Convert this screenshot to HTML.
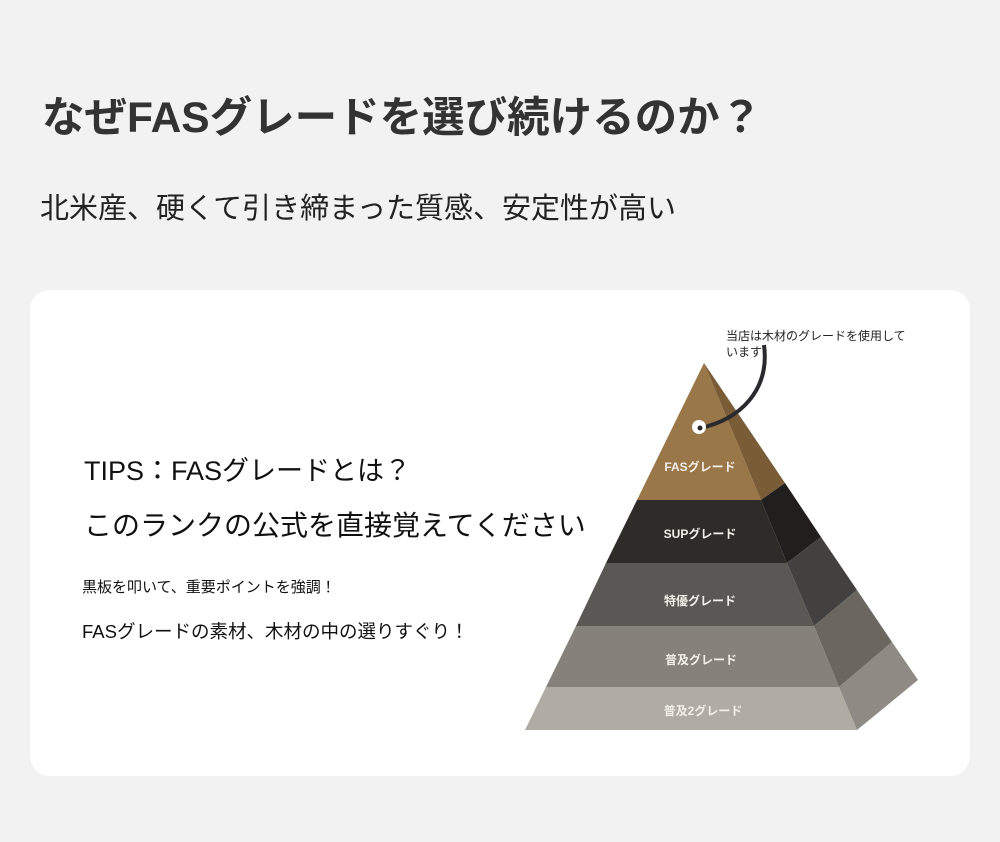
<!DOCTYPE html>
<html><head><meta charset="utf-8"><style>
body{margin:0;width:1000px;height:842px;background:#f2f2f2;position:relative;overflow:hidden;font-family:"Liberation Sans","Noto Sans CJK JP",sans-serif;color:#222}
.t{position:absolute;white-space:nowrap}
.card{position:absolute;left:30px;top:290px;width:940px;height:486px;background:#fff;border-radius:20px}
</style></head><body>
<div class="t" style="left:42px;top:84px;font-size:42.5px;font-weight:bold;color:#333">なぜFASグレードを選び続けるのか？</div>
<div class="t" style="left:40px;top:185px;font-size:29px;color:#222">北米産、硬くて引き締まった質感、安定性が高い</div>
<div class="card"></div>
<div class="t" style="left:84px;top:449px;font-size:27px;color:#111">TIPS：FASグレードとは？</div>
<div class="t" style="left:84px;top:504px;font-size:28px;color:#111">このランクの公式を直接覚えてください</div>
<div class="t" style="left:82px;top:576px;font-size:15px;color:#111">黒板を叩いて、重要ポイントを強調！</div>
<div class="t" style="left:82px;top:618px;font-size:18.5px;color:#111">FASグレードの素材、木材の中の選りすぐり！</div>
<svg style="position:absolute;left:0;top:0" width="1000" height="842">
<g>
<polygon points="704,363 761,500 637,500" fill="#9a7748"/>
<polygon points="704,363 785,483 761,500" fill="#7a5c37"/>
<polygon points="637,500 761,500 787,563 606,563" fill="#2e2c29"/>
<polygon points="761,500 785,483 821,537 787,563" fill="#201f1d"/>
<polygon points="606,563 787,563 814,626 576,626" fill="#5a5855"/>
<polygon points="787,563 821,537 857,590 814,626" fill="#434140"/>
<polygon points="576,626 814,626 839,687 546,687" fill="#86817a"/>
<polygon points="814,626 857,590 892,642 839,687" fill="#6b6760"/>
<polygon points="546,687 839,687 857,730 525,730" fill="#b0aca3"/>
<polygon points="839,687 892,642 918,680 857,730" fill="#8f8a83"/>
</g>
<path d="M700,428 C740,420 770,390 764,345" stroke="#2a2a2e" stroke-width="4" fill="none"/>
<circle cx="699" cy="427" r="7" fill="#fff"/>
<circle cx="700" cy="428" r="2.5" fill="#2a2a2e"/>
<g font-size="12" font-weight="bold" fill="#f2eee8" text-anchor="middle" font-family="Liberation Sans,Noto Sans CJK JP,sans-serif">
<text x="700" y="471">FASグレード</text>
<text x="700" y="538">SUPグレード</text>
<text x="700" y="605">特優グレード</text>
<text x="701" y="664">普及グレード</text>
<text x="703" y="715">普及2グレード</text>
</g>
<text x="726" y="340" font-size="12" fill="#222" font-family="Liberation Sans,Noto Sans CJK JP,sans-serif">当店は木材のグレードを使用して</text>
<text x="726" y="356" font-size="12" fill="#222" font-family="Liberation Sans,Noto Sans CJK JP,sans-serif">います</text>
</svg>
</body></html>
